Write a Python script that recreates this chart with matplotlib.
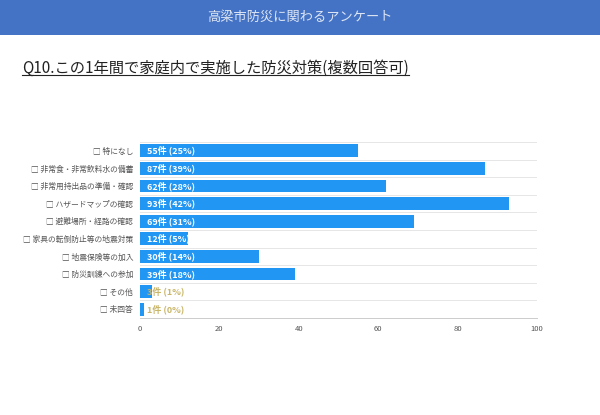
import matplotlib.pyplot as plt
import matplotlib.patches as patches
from matplotlib.lines import Line2D

plt.rcParams['font.family'] = ['Noto Sans CJK JP', 'DejaVu Sans']

# データ
項目 = ["特になし", "非常食・非常飲料水の備蓄", "非常用持出品の準備・確認", "ハザードマップの確認",
       "避難場所・経路の確認", "家具の転倒防止等の地震対策", "地震保険等の加入", "防災訓練への参加",
       "その他", "未回答"]
件数 = [55, 87, 62, 93, 69, 12, 30, 39, 3, 1]
割合 = [25, 39, 28, 42, 31, 5, 14, 18, 1, 0]
目盛 = [0, 20, 40, 60, 80, 100]

fig = plt.figure(figsize=(6, 4.15), dpi=100)

# ヘッダー帯
fig.patches.append(patches.Rectangle((0, 1 - 35 / 415), 1, 35 / 415, transform=fig.transFigure,
                                     facecolor='#4472C4', edgecolor='none', zorder=0))
fig.text(0.5, 1 - 17 / 415, "高梁市防災に関わるアンケート", ha='center', va='center',
         fontsize=9.5, color='#dde6f4')

# タイトル（下線付き）
t = fig.text(22 / 600, 1 - 68 / 415, "Q10.この1年間で家庭内で実施した防災対策(複数回答可)",
             ha='left', va='center', fontsize=11, color='#222222')
fig.canvas.draw()
bb = t.get_window_extent().transformed(fig.transFigure.inverted())
fig.lines.append(Line2D([bb.x0, bb.x1], [bb.y0 + 0.004, bb.y0 + 0.004], transform=fig.transFigure,
                        color='#222222', linewidth=0.8))

# グラフ
ax = fig.add_axes([140 / 600, 1 - 318 / 415, 397 / 600, 176 / 415])
y = list(range(len(項目)))
ax.barh(y, 件数, height=0.72, color='#2196F3', zorder=2)
ax.set_xlim(0, 100)
ax.set_ylim(len(項目) - 0.5, -0.5)

for i in range(len(項目) + 1):
    ax.axhline(i - 0.5, color='#e6e6e6', linewidth=0.7, zorder=1)

for i, (n, p) in enumerate(zip(件数, 割合)):
    col = 'white' if n >= 10 else '#c9b66a'
    ax.text(1.8, i, f"{n}件 ({p}%)", va='center', ha='left', fontsize=6.5,
            fontweight='bold', color=col, zorder=3)

ax.set_yticks(y)
ax.set_yticklabels(["□ " + s for s in 項目], fontsize=5.6, color='#555555')
ax.set_xticks(目盛)
ax.set_xticklabels([str(v) for v in 目盛], fontsize=5.5, color='#555555')
ax.tick_params(axis='both', length=0, pad=5)
for s in ['top', 'right', 'left']:
    ax.spines[s].set_visible(False)
ax.spines['bottom'].set_color('#cccccc')
ax.spines['bottom'].set_linewidth(0.7)

fig.savefig('out.png', dpi=100)
